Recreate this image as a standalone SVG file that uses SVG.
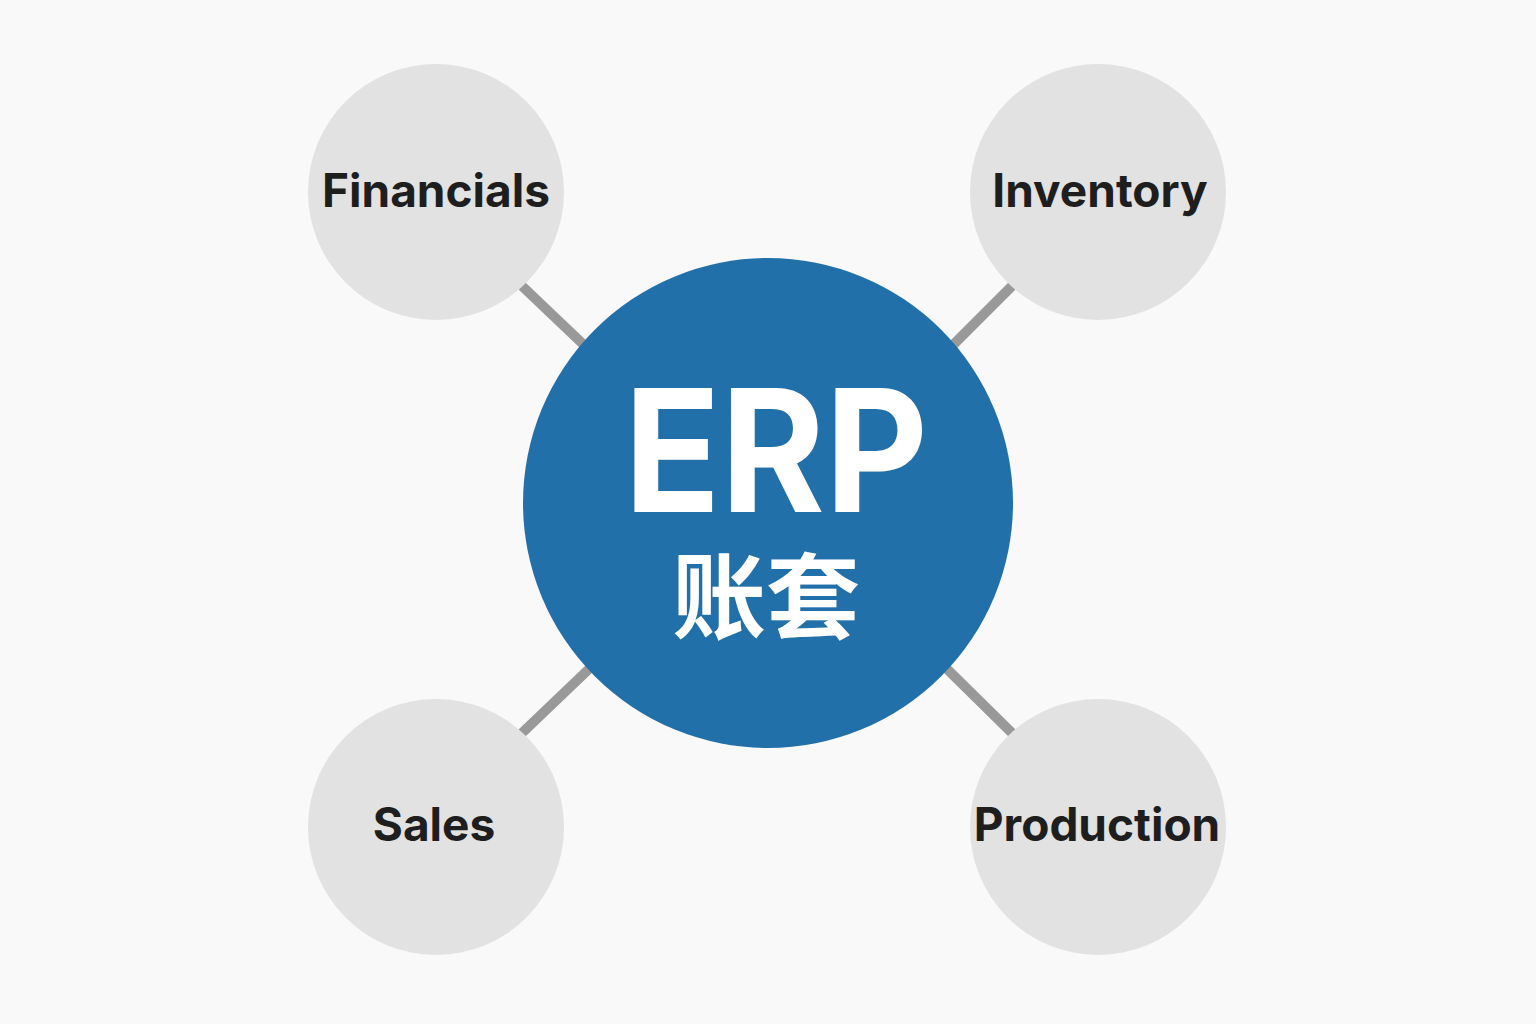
<svg xmlns="http://www.w3.org/2000/svg" width="1536" height="1024" viewBox="0 0 1536 1024">
<style>
.bg{fill:#f9f9f9}
.sat{fill:#e2e2e2}
.hub{fill:#2270aa}
.lbl{font-family:Inter,"Noto Sans","Liberation Sans",sans-serif;font-weight:700;font-size:46px;fill:#1e1e1e;text-anchor:middle}
.conn line{stroke:#999999;stroke-width:10;stroke-linecap:butt}
.erp{font-family:Inter,"Noto Sans","Liberation Sans",sans-serif;font-weight:700;font-size:170px;fill:#ffffff;text-anchor:middle}
.cn{font-family:"Noto Sans CJK SC",sans-serif;font-weight:700;font-size:94px;fill:#ffffff;text-anchor:middle}
</style>
<rect class="bg" x="0" y="0" width="1536" height="1024"/>
<g id="connectors" class="conn">
<line x1="522" y1="286" x2="585" y2="346"/>
<line x1="1012" y1="286" x2="952" y2="346"/>
<line x1="522" y1="733" x2="590" y2="668"/>
<line x1="1012" y1="733" x2="946" y2="668"/>
</g>
<g id="financials"><circle class="sat" cx="436" cy="192" r="128"/><text class="lbl" x="436" y="207">Financials</text></g>
<g id="inventory"><circle class="sat" cx="1098" cy="192" r="128"/><text class="lbl" x="1100" y="207">Inventory</text></g>
<g id="sales"><circle class="sat" cx="436" cy="827" r="128"/><text class="lbl" x="434" y="841">Sales</text></g>
<g id="production"><circle class="sat" cx="1098" cy="827" r="128"/><text class="lbl" x="1097" y="841">Production</text></g>
<g id="erp"><circle class="hub" cx="768" cy="503" r="245"/><text class="erp" x="776" y="512" textLength="304" lengthAdjust="spacingAndGlyphs">ERP</text><text class="cn" x="766" y="632">账套</text></g>
</svg>
